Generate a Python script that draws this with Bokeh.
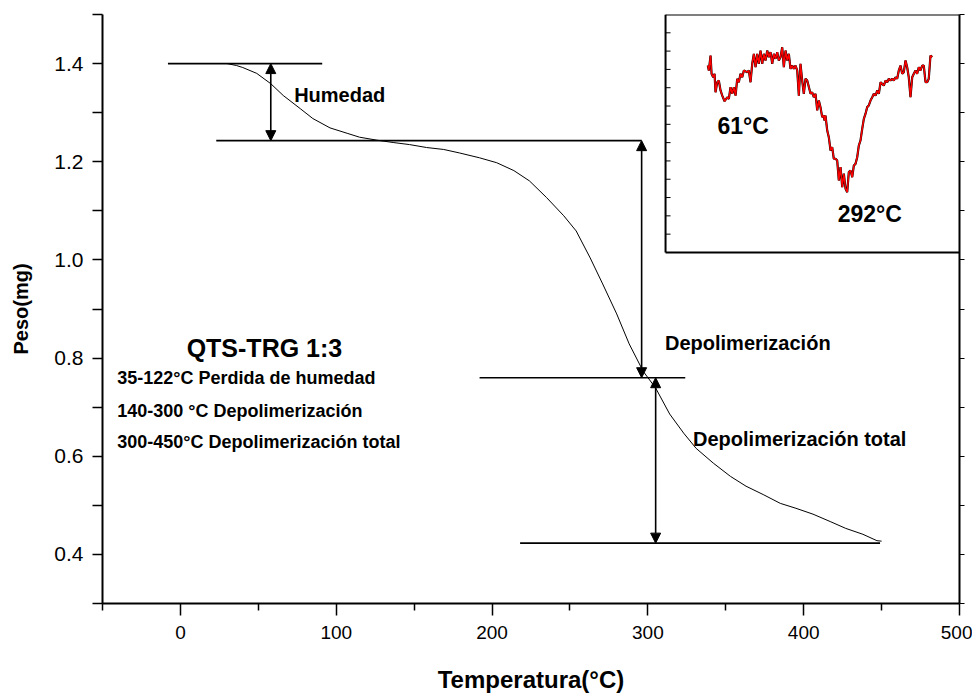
from bokeh.plotting import figure
from bokeh.models import (Range1d, LinearAxis, FixedTicker, Arrow, NormalHead, ColumnDataSource,
                          PrintfTickFormatter, CustomLabelingPolicy)
from bokeh.core.properties import value
from bokeh.embed import file_html
from bokeh.resources import INLINE

# ---------------- TGA curve (main) ----------------
temp_c = [30, 36, 40, 49, 58, 66, 77, 85, 96, 107, 115, 126, 137, 147, 158, 169, 179,
          192, 203, 214, 224, 235, 246, 254, 263, 271, 280, 288, 297, 305, 314, 323,
          331, 342, 353, 363, 374, 385, 395, 406, 417, 427, 438, 447, 450]
weight_mg = [1.400, 1.396, 1.392, 1.380, 1.359, 1.335, 1.308, 1.288, 1.269, 1.258, 1.250,
             1.244, 1.239, 1.235, 1.229, 1.225, 1.218, 1.208, 1.198, 1.182, 1.161, 1.127,
             1.090, 1.059, 1.004, 0.951, 0.890, 0.829, 0.773, 0.739, 0.686, 0.647, 0.616,
             0.586, 0.559, 0.539, 0.522, 0.504, 0.494, 0.482, 0.467, 0.453, 0.441, 0.428,
             0.427]

# ---------------- DTG inset (arbitrary units) ----------------
dtg_temp = [29.1, 31.0, 34.2, 36.1, 39.2, 41.7, 43.5, 46.7, 49.7, 52.9, 56.1, 60.4, 65.4,
            68.4, 71.6, 74.8, 77.8, 81.0, 84.1, 87.1, 90.3, 93.5, 96.5, 102.8, 105.8,
            109.0, 112.2, 115.2, 118.4, 121.5, 124.5, 127.7, 130.9, 133.9, 137.1, 140.3,
            143.2, 146.4, 149.6, 152.6, 155.8, 159.0, 161.9, 165.1, 168.3, 171.3, 174.5,
            177.7, 180.7, 183.8, 187.0, 190.0, 193.2, 196.4, 199.4, 202.5, 205.7, 208.7,
            211.9, 215.1, 221.3, 224.4, 227.4, 230.6, 233.8, 236.8, 240.0, 243.1, 246.1,
            247.4, 249.3, 252.5, 255.5, 258.7, 261.8, 264.8, 268.0, 271.2, 274.2, 277.4,
            280.6, 283.6, 286.8, 289.9, 292.9, 296.1, 299.3, 302.3, 305.4, 308.6, 311.6,
            314.8, 318.0, 321.0, 324.2, 327.3, 330.3, 333.5, 336.7, 339.7, 342.9, 346.1,
            349.1, 352.3, 355.4, 358.4, 361.6, 364.8, 367.7, 370.9, 374.1, 377.1, 380.3,
            383.4, 386.4, 389.6, 392.8, 395.8, 399.0, 402.1, 405.1, 408.3, 411.5, 414.5,
            417.7, 420.8, 423.8, 427.0, 430.2, 433.2, 436.4, 439.5, 442.5, 445.7, 448.9]
dtg_signal = [10.21, 9.94, 10.76, 9.76, 9.57, 9.76, 8.75, 9.30, 9.39, 8.85, 8.57, 8.26, 8.48,
              8.39, 9.03, 8.67, 9.03, 8.57, 9.49, 9.30, 9.76, 9.57, 9.94, 9.85, 9.94,
              9.30, 10.31, 10.85, 10.12, 10.85, 10.31, 11.03, 10.31, 10.85, 10.49, 11.03,
              10.67, 10.94, 10.31, 10.85, 10.58, 10.94, 10.49, 10.67, 11.21, 10.12, 11.03,
              10.49, 10.85, 10.03, 10.21, 10.03, 10.21, 9.94, 8.57, 10.31, 9.39, 8.67,
              9.49, 9.39, 8.67, 8.75, 8.48, 8.67, 7.76, 8.30, 7.92, 7.39, 7.48,
              7.21, 7.48, 6.66, 6.30, 5.57, 5.75, 5.12, 5.12, 5.02, 3.93, 4.66,
              3.57, 4.30, 3.48, 3.29, 4.39, 4.48, 4.11, 4.75, 4.84, 5.20, 5.84,
              6.12, 6.76, 7.30, 7.58, 7.94, 8.03, 8.30, 8.48, 8.67, 8.57, 8.85,
              8.67, 9.30, 9.21, 9.12, 9.39, 9.30, 9.49, 9.39, 9.49, 9.39, 9.57,
              9.49, 9.94, 10.21, 9.76, 9.85, 10.49, 10.12, 9.57, 8.48, 9.57, 9.76,
              9.94, 9.76, 10.12, 9.94, 10.21, 10.21, 9.30, 9.30, 9.49, 10.76, 10.67]

# ---------------- step construction lines and arrows ----------------
step_level = [1.400, 1.243, 0.760, 0.423]
step_from = [-8, 23, 192, 218]
step_to = [91, 296, 324, 449]

arrow_temp = [58, 296, 305]
arrow_hi = [1.400, 1.243, 0.760]
arrow_lo = [1.243, 0.760, 0.423]

step_labels = ["Humedad", "Depolimerización", "Depolimerización total"]
step_label_x = [73, 311, 329]
step_label_y = [1.337, 0.831, 0.636]

sample_title = ["QTS-TRG 1:3"]
sample_title_x = [4]
sample_title_y = [0.821]

legend_lines = ["35-122°C Perdida de humedad",
                "140-300 °C Depolimerización",
                "300-450°C Depolimerización total"]
legend_x = [-40.5, -40.5, -40.5]
legend_y = [0.759, 0.692, 0.629]

peak_labels = ["61°C", "292°C"]
peak_x = [47, 272]
peak_y = [6.9, 2.1]

# ---------------- axes ----------------
x_major = [0, 100, 200, 300, 400, 500]
x_minor = [-50, 50, 150, 250, 350, 450]
y_major = [0.4, 0.6, 0.8, 1.0, 1.2, 1.4]
y_minor = [0.3, 0.5, 0.7, 0.9, 1.1, 1.3, 1.5]

X_LO, X_HI = -50, 500
Y_LO, Y_HI = 0.3, 1.5

# inset placement (fractions of the plot frame) and inset data bounds
INSET_FX = (0.657, 1.0)
INSET_FY = (0.596, 1.0)
INSET_T = (-50, 500)
INSET_S = (0, 13)
inset_ticks = list(range(1, 13))


def frame_range(bounds, frac):
    a, b = bounds
    f0, f1 = frac
    span = (b - a) / (f1 - f0)
    return Range1d(a - f0 * span, b + (1 - f1) * span)


FONT = value("Liberation Sans")

p = figure(width=972, height=695,
           x_range=Range1d(X_LO, X_HI), y_range=Range1d(Y_LO, Y_HI),
           output_backend="svg", toolbar_location=None,
           min_border_left=102, min_border_right=13,
           min_border_top=14, min_border_bottom=92)
p.outline_line_color = None
p.grid.visible = False
p.background_fill_color = "white"
p.border_fill_color = "white"

p.extra_x_ranges = {"inset_x": frame_range(INSET_T, INSET_FX)}
p.extra_y_ranges = {"inset_y": frame_range(INSET_S, INSET_FY)}

# x axis
xa = p.xaxis[0]
xa.ticker = FixedTicker(ticks=x_major, minor_ticks=x_minor)
xa.axis_line_width = 2
xa.major_tick_line_width = 1.5
xa.minor_tick_line_width = 1.5
xa.major_tick_out = 12
xa.major_tick_in = 0
xa.minor_tick_out = 7
xa.minor_tick_in = 0
xa.major_label_text_font = "Liberation Sans"
xa.major_label_text_font_size = "19px"
xa.major_label_text_color = "black"
xa.major_label_standoff = 10
xa.axis_label = "Temperatura(°C)"
xa.axis_label_text_font = "Liberation Sans"
xa.axis_label_text_font_style = "bold"
xa.axis_label_text_font_size = "24px"
xa.axis_label_text_color = "black"
xa.axis_label_standoff = 24

# y axis
ya = p.yaxis[0]
ya.ticker = FixedTicker(ticks=y_major, minor_ticks=y_minor)
ya.formatter = PrintfTickFormatter(format="%.1f")
ya.axis_line_width = 2
ya.major_tick_line_width = 1.5
ya.minor_tick_line_width = 1.5
ya.major_tick_out = 10
ya.major_tick_in = 0
ya.minor_tick_out = 10
ya.minor_tick_in = 0
ya.major_label_text_font = "Liberation Sans"
ya.major_label_text_font_size = "21px"
ya.major_label_text_color = "black"
ya.major_label_standoff = 9
ya.axis_label = "Peso(mg)"
ya.axis_label_text_font = "Liberation Sans"
ya.axis_label_text_font_style = "bold"
ya.axis_label_text_font_size = "20px"
ya.axis_label_text_color = "black"
ya.axis_label_standoff = 19

# right frame axis (ticks only, no labels)
ra = LinearAxis(ticker=FixedTicker(ticks=sorted(y_major + y_minor), minor_ticks=[]))
ra.axis_line_width = 2
ra.major_tick_line_width = 1.2
ra.major_tick_out = 5
ra.major_tick_in = 0
ra.minor_tick_out = 0
ra.major_label_standoff = 0
ra.major_label_text_font_size = "0px"
ra.major_label_policy = CustomLabelingPolicy(code="""
try { indices.clear() } catch (e) {
  for (const i of Array.from(indices)) { indices.unset(i) }
}
return indices
""")
p.add_layout(ra, "right")

# TGA curve
p.line(temp_c, weight_mg, line_color="black", line_width=1)

# step lines
p.segment(x0=step_from, y0=step_level, x1=step_to, y1=step_level,
          line_color="black", line_width=1.6)

# double arrows
arr_src = ColumnDataSource(dict(x=arrow_temp, hi=arrow_hi, lo=arrow_lo))
p.add_layout(Arrow(x_start="x", y_start="hi", x_end="x", y_end="lo", source=arr_src,
                   line_color="black", line_width=1.6,
                   start=NormalHead(size=10, fill_color="black", line_color="black", line_width=1),
                   end=NormalHead(size=10, fill_color="black", line_color="black", line_width=1)))

# annotation texts
p.text(x=step_label_x, y=step_label_y, text=step_labels, text_font=FONT,
       text_font_style="bold", text_font_size="20px", text_color="black",
       text_align="left", text_baseline="alphabetic")
p.text(x=sample_title_x, y=sample_title_y, text=sample_title, text_font=FONT,
       text_font_style="bold", text_font_size="25px", text_color="black",
       text_align="left", text_baseline="alphabetic")
p.text(x=legend_x, y=legend_y, text=legend_lines, text_font=FONT,
       text_font_style="bold", text_font_size="18px", text_color="black",
       text_align="left", text_baseline="alphabetic")

# ---------------- inset ----------------
ix0, ix1 = INSET_T
iy0, iy1 = INSET_S
p.segment(x0=[ix0, ix0, ix0], y0=[iy0, iy0, iy1], x1=[ix0, ix1, ix1], y1=[iy1, iy0, iy1],
          line_color="black", line_width=2, x_range_name="inset_x", y_range_name="inset_y")
tick_len = 0.017 * (ix1 - ix0)
p.segment(x0=[ix0] * len(inset_ticks), y0=inset_ticks,
          x1=[ix0 + tick_len] * len(inset_ticks), y1=inset_ticks,
          line_color="black", line_width=1, x_range_name="inset_x", y_range_name="inset_y")
p.line(dtg_temp, dtg_signal, line_color="black", line_width=2.2,
       x_range_name="inset_x", y_range_name="inset_y")
p.line(dtg_temp, dtg_signal, line_color="#ff0000", line_width=1.5,
       x_range_name="inset_x", y_range_name="inset_y")
p.text(x=peak_x, y=peak_y, text=peak_labels, text_font=FONT,
       text_font_style="bold", text_font_size="23px", text_color="black",
       text_align="left", text_baseline="alphabetic",
       x_range_name="inset_x", y_range_name="inset_y")

open("out.html", "w").write(file_html(p, INLINE))
